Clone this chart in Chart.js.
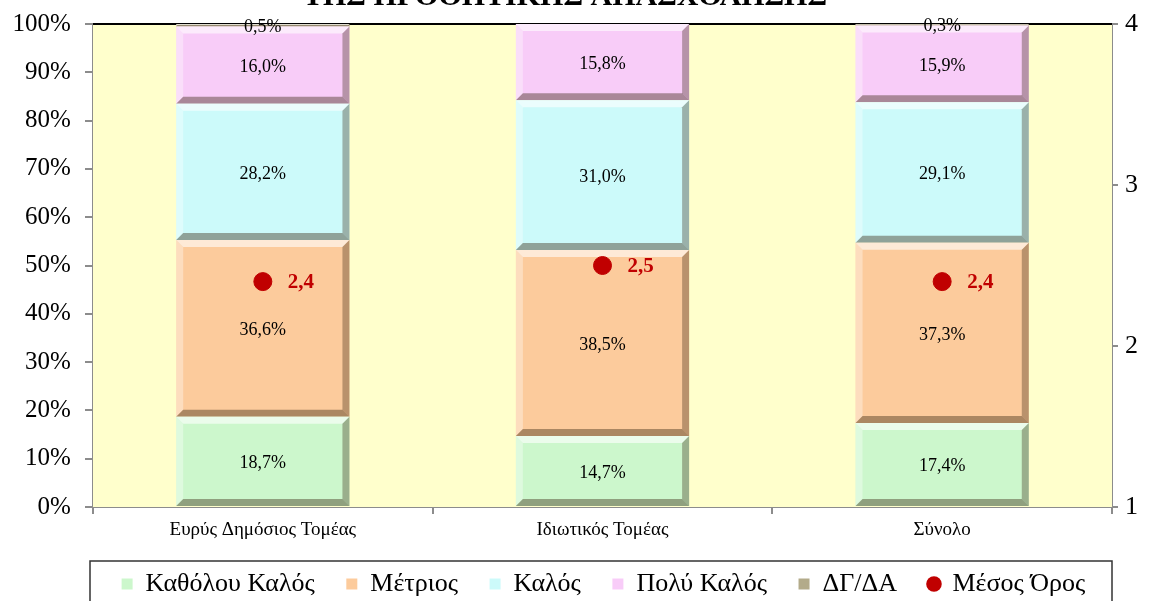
<!DOCTYPE html>
<html>
<head>
<meta charset="utf-8">
<script src="https://cdn.jsdelivr.net/npm/chart.js@4.4.1/dist/chart.umd.min.js"></script>
<style>
  html, body { margin: 0; padding: 0; background: #fff; overflow: hidden; }
  #wrap { width: 1149px; height: 607px; }
</style>
</head>
<body>
<div id="wrap"><canvas id="chart"></canvas></div>
<script>
const categories = ['Ευρύς Δημόσιος Τομέας', 'Ιδιωτικός Τομέας', 'Σύνολο'];
const seriesNames = ['Καθόλου Καλός', 'Μέτριος', 'Καλός', 'Πολύ Καλός', 'ΔΓ/ΔΑ', 'Μέσος Όρος'];
const notGood = [18.7, 14.7, 17.4];
const moderate = [36.6, 38.5, 37.3];
const good = [28.2, 31.0, 29.1];
const veryGood = [16.0, 15.8, 15.9];
const noAnswer = [0.5, 0.0, 0.3];
const meanScore = [2.4, 2.5, 2.4];
const percentRange = [0, 100];
const meanRange = [1, 4];
const titleText = 'ΤΗΣ ΠΡΟΟΠΤΙΚΗΣ ΑΠΑΣΧΟΛΗΣΗΣ';

const FONT = '"Liberation Serif", "Times New Roman", serif';
const barColors = ['#CCF7CC', '#FCCB9C', '#CCFAFA', '#F8CCF8', '#B3AB8A'];

function fmt(v) {
  return v.toFixed(1).replace('.', ',');
}

// yellow plot background + black top line
const plotBg = {
  id: 'plotBg',
  beforeDatasetsDraw(chart) {
    const { ctx, chartArea: a } = chart;
    ctx.save();
    ctx.fillStyle = '#FFFFCC';
    ctx.fillRect(a.left, a.top, a.right - a.left, a.bottom - a.top);
    ctx.strokeStyle = '#000';
    ctx.lineWidth = 2;
    ctx.beginPath();
    ctx.moveTo(a.left, a.top);
    ctx.lineTo(a.right, a.top);
    ctx.stroke();
    ctx.restore();
  }
};

function poly(ctx, pts, color) {
  ctx.fillStyle = color;
  ctx.beginPath();
  ctx.moveTo(pts[0][0], pts[0][1]);
  for (let i = 1; i < pts.length; i++) ctx.lineTo(pts[i][0], pts[i][1]);
  ctx.closePath();
  ctx.fill();
}

// bevelled look of the bars
const bevel = {
  id: 'bevel',
  afterDatasetDraw(chart, args) {
    const meta = args.meta;
    if (meta.type !== 'bar') return;
    const ctx = chart.ctx;
    ctx.save();
    meta.data.forEach(el => {
      const x0 = el.x - el.width / 2, x1 = el.x + el.width / 2;
      const y0 = Math.min(el.y, el.base), y1 = Math.max(el.y, el.base);
      const h = y1 - y0;
      if (h <= 0) return;
      const b = Math.min(7, h / 2);
      poly(ctx, [[x0, y0], [x1, y0], [x1 - b, y0 + b], [x0 + b, y0 + b]], 'rgba(255,255,255,0.6)');
      poly(ctx, [[x0, y0], [x0 + b, y0 + b], [x0 + b, y1 - b], [x0, y1]], 'rgba(255,255,255,0.35)');
      poly(ctx, [[x1, y0], [x1, y1], [x1 - b, y1 - b], [x1 - b, y0 + b]], 'rgba(60,40,20,0.35)');
      poly(ctx, [[x0, y1], [x1, y1], [x1 - b, y1 - b], [x0 + b, y1 - b]], 'rgba(60,40,20,0.42)');
    });
    ctx.restore();
  }
};

// value labels on segments and mean labels
const valueLabels = {
  id: 'valueLabels',
  afterDatasetsDraw(chart) {
    const ctx = chart.ctx;
    ctx.save();
    ctx.textAlign = 'center';
    ctx.textBaseline = 'middle';
    chart.data.datasets.forEach((ds, di) => {
      const meta = chart.getDatasetMeta(di);
      if (meta.type === 'bar') {
        ctx.font = '18px ' + FONT;
        ctx.fillStyle = '#000';
        meta.data.forEach((el, i) => {
          const v = ds.data[i];
          if (!v) return;
          ctx.fillText(fmt(v) + '%', el.x, (el.y + el.base) / 2 + 2);
        });
      } else {
        ctx.font = 'bold 21px ' + FONT;
        ctx.fillStyle = '#C00000';
        ctx.textAlign = 'left';
        meta.data.forEach((el, i) => {
          ctx.fillText(fmt(ds.data[i]), el.x + 25, el.y + 1);
        });
        ctx.textAlign = 'center';
      }
    });
    ctx.restore();
  }
};

// legend sits a little right of the page centre, like the plot area
const legendShift = {
  id: 'legendShift',
  afterLayout(chart) {
    chart.legend.left += 58;
  }
};

// clipped title at the top and frame around the legend
const frame = {
  id: 'frame',
  afterDraw(chart) {
    const { ctx, chartArea: a, legend } = chart;
    ctx.save();
    ctx.font = 'bold 30px ' + FONT;
    ctx.fillStyle = '#000';
    ctx.textAlign = 'center';
    ctx.textBaseline = 'alphabetic';
    ctx.fillText(titleText, 565, 5);
    ctx.strokeStyle = '#333';
    ctx.lineWidth = 1.5;
    ctx.strokeRect(a.left - 3, legend.top + 2, a.right - a.left + 3, chart.height);
    ctx.restore();
  }
};

const datasets = [notGood, moderate, good, veryGood, noAnswer].map((vals, i) => ({
  type: 'bar',
  label: seriesNames[i],
  data: vals,
  backgroundColor: barColors[i],
  borderWidth: 0,
  yAxisID: 'y',
  barPercentage: 0.51,
  categoryPercentage: 1.0,
  order: 2
}));
datasets.push({
  type: 'line',
  label: seriesNames[5],
  data: meanScore,
  yAxisID: 'y1',
  showLine: false,
  pointRadius: 9,
  pointHoverRadius: 9,
  pointBackgroundColor: '#C00000',
  pointBorderColor: '#C00000',
  backgroundColor: '#C00000',
  borderColor: '#C00000',
  order: 1
});

const grayAxis = '#8C8C8C';

new Chart(document.getElementById('chart'), {
  data: { labels: categories, datasets: datasets },
  options: {
    responsive: true,
    maintainAspectRatio: false,
    animation: false,
    layout: { padding: { top: 24, left: 0, right: 0, bottom: 0 } },
    plugins: {
      tooltip: { enabled: false },
      title: { display: false },
      legend: {
        position: 'bottom',
        labels: {
          font: { family: FONT, size: 26 },
          color: '#000',
          usePointStyle: true,
          boxHeight: 11,
          boxWidth: 11,
          padding: 12,
          sort: (a, b) => a.datasetIndex - b.datasetIndex,
          generateLabels(chart) {
            const items = Chart.defaults.plugins.legend.labels.generateLabels(chart);
            items.forEach(it => {
              it.pointStyle = it.datasetIndex === 5 ? 'circle' : 'rect';
              it.lineWidth = 0;
              if (it.datasetIndex < 5) it.text += '   ';
            });
            return items;
          }
        }
      }
    },
    scales: {
      x: {
        stacked: true,
        offset: true,
        afterFit: s => { s.height = 52; },
        grid: { display: true, offset: true, drawOnChartArea: false, color: grayAxis, tickLength: 7, lineWidth: 2 },
        border: { color: grayAxis, width: 2 },
        ticks: { font: { family: FONT, size: 19 }, color: '#000', padding: 5 }
      },
      y: {
        stacked: true,
        position: 'left',
        min: percentRange[0],
        max: percentRange[1],
        afterFit: s => { s.width = 93; },
        ticks: { stepSize: 10, font: { family: FONT, size: 25 }, color: '#000', padding: 8, callback: v => v + '% ' },
        grid: { drawOnChartArea: false, color: grayAxis, tickLength: 8, lineWidth: 2 },
        border: { color: grayAxis, width: 2 }
      },
      y1: {
        position: 'right',
        min: meanRange[0],
        max: meanRange[1],
        afterFit: s => { s.width = 37; },
        ticks: { stepSize: 1, font: { family: FONT, size: 26 }, color: '#000', padding: 7 },
        grid: { drawOnChartArea: false, color: grayAxis, tickLength: 6, lineWidth: 2 },
        border: { color: grayAxis, width: 2 }
      }
    }
  },
  plugins: [plotBg, bevel, valueLabels, legendShift, frame]
});
</script>
</body>
</html>
